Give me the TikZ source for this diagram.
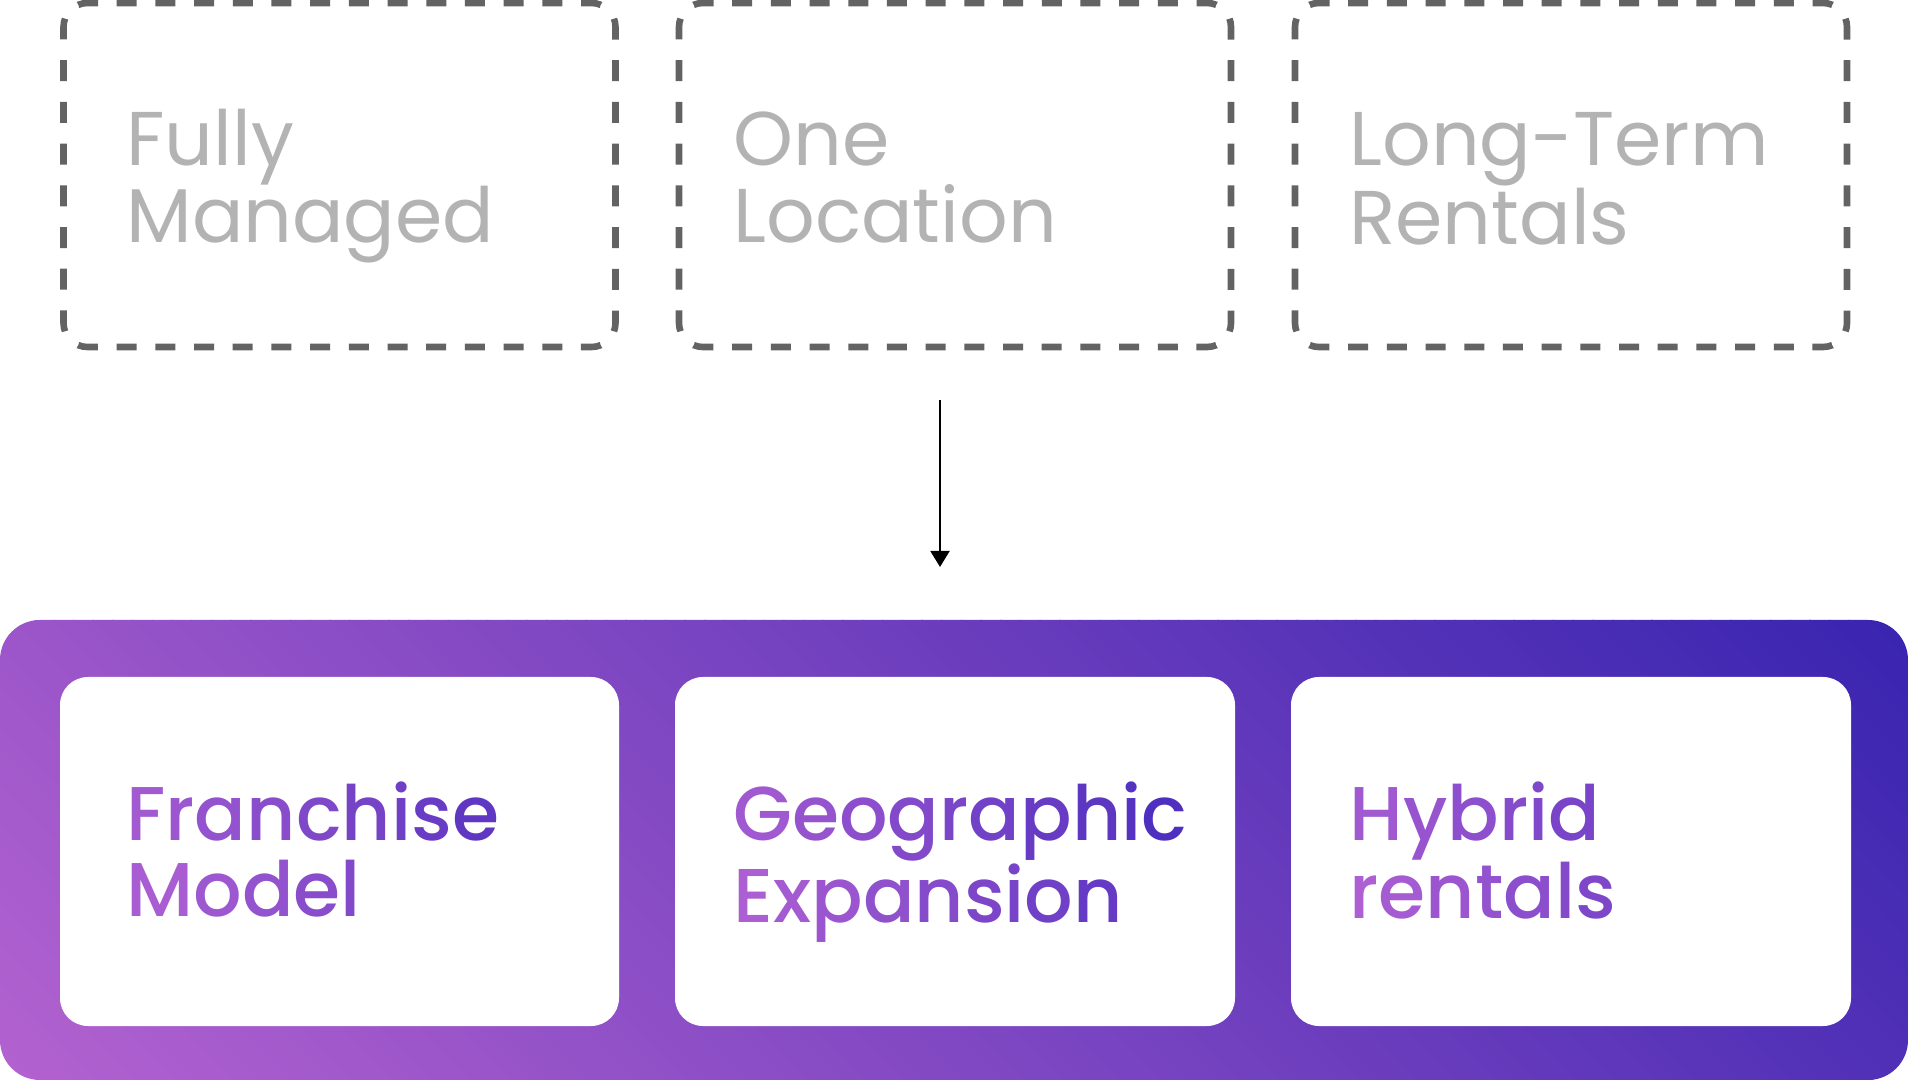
\documentclass[tikz,border=0pt]{standalone}
\usepackage{fontspec}
\setmainfont{Poppins}
\newfontfamily\popreg{Poppins}
\newfontfamily\popmed{Poppins Medium}
\usetikzlibrary{arrows.meta}
\definecolor{gL}{HTML}{B462D0}
\definecolor{gD}{HTML}{3824B0}
\definecolor{tL}{HTML}{B262D4}
\definecolor{tD}{HTML}{3E26BC}
\definecolor{dashgray}{HTML}{636363}
\definecolor{lblgray}{HTML}{B3B3B3}
\makeatletter
\newcommand\gradword[3]{%
  \def\gw@pre{}%
  \@tfor\gw@c:=#3\do{%
    \setbox0\hbox{\gw@pre\gw@c}%
    \setbox2\hbox{\gw@pre}%
    \dimen@=\wd0 \advance\dimen@\wd2 \divide\dimen@ 2
    \pgfmathsetmacro\gw@p{min(100,max(0,#1+#2*\the\dimen@))}%
    \textcolor{tD!\gw@p!tL}{\gw@c}%
    \edef\gw@pre{\gw@pre\gw@c}%
  }}
\makeatother
\tikzset{
  dashbox/.style={minimum width=276pt, minimum height=172pt, inner sep=0pt, outer sep=0pt},
  hdash/.style={draw=dashgray, line width=3.3pt, dash pattern=on 10pt off 9.346pt, dash phase=14.673pt},
  vdash/.style={draw=dashgray, line width=3.3pt, dash pattern=on 10.5pt off 10.356pt, dash phase=15.678pt},
  whitebox/.style={fill=white, rounded corners=14pt, minimum width=280pt,
    minimum height=174.5pt, inner sep=0pt},
  toplbl/.style={anchor=base west, inner sep=0pt, text=lblgray,
    font=\fontsize{38.1pt}{38.25pt}\selectfont\popreg},
  botlbl/.style={anchor=base west, inner sep=0pt,
    font=\fontsize{38.1pt}{38pt}\selectfont\popmed},
  arrowline/.style={line width=1pt, -{Triangle[width=9.5pt,length=8pt]}}
}
\newcommand\dashoutline[1]{%
  \draw[hdash] ([shift={(3.515pt,-3.515pt)}]#1.north west) arc[start angle=135,end angle=90,radius=12pt]
     -- ([xshift=-12pt]#1.north east) arc[start angle=90,end angle=45,radius=12pt];
  \draw[vdash] ([shift={(-3.515pt,-3.515pt)}]#1.north east) arc[start angle=45,end angle=0,radius=12pt]
     -- ([yshift=12pt]#1.south east) arc[start angle=0,end angle=-45,radius=12pt];
  \draw[hdash] ([shift={(-3.515pt,3.515pt)}]#1.south east) arc[start angle=-45,end angle=-90,radius=12pt]
     -- ([xshift=12pt]#1.south west) arc[start angle=-90,end angle=-135,radius=12pt];
  \draw[vdash] ([shift={(3.515pt,3.515pt)}]#1.south west) arc[start angle=-135,end angle=-180,radius=12pt]
     -- ([yshift=-12pt]#1.north west) arc[start angle=180,end angle=135,radius=12pt];
}
\begin{document}
\begin{tikzpicture}[x=0.5pt,y=-0.5pt]
\useasboundingbox (0,0) rectangle (1908,1080);
% top dashed boxes
\node[dashbox] (d1) at (339.5,175) {};
\node[dashbox] (d2) at (955,175) {};
\node[dashbox] (d3) at (1571,175) {};
\dashoutline{d1}
\dashoutline{d2}
\dashoutline{d3}
\node[toplbl] (t1) at (126,166) {\vtop{\hbox{Fully}\hbox{Managed}}};
\node[toplbl] (t2) at (733,166) {\vtop{\hbox{One}\hbox{Location}}};
\node[toplbl] (t3) at (1349,166) {\vtop{\hbox{Long-Term}\hbox{Rentals}}};
% arrow
\coordinate (a1) at (940,400);
\coordinate (a2) at (940,567);
\draw[arrowline] (a1) -- (a2);
% gradient band
\begin{scope}
\clip[rounded corners=20pt] (0,620) rectangle (1908,1080);
\foreach \i in {0,...,119}{
  \pgfmathsetmacro\xa{\i*19.7333}
  \pgfmathsetmacro\xb{(\i+1)*19.7333+1.5}
  \pgfmathsetmacro\pp{(\i+0.5)*0.83333}
  \fill[gD!\pp!gL] (\xa,1082) -- (\xb,1082) -- (\xb-462,618) -- (\xa-462,618) -- cycle;
}
\end{scope}
% white boxes
\node[whitebox, minimum width=279.5pt] (w1) at (339.5,851.5) {};
\node[whitebox] (w2) at (955,851.5) {};
\node[whitebox] (w3) at (1571,851.5) {};
\node[botlbl] (l1) at (126,840.7) {\vtop{\hbox{\gradword{10}{0.35}{Franchise}}\hbox{\gradword{2}{0.35}{Model}}}};
\node[botlbl] (l2) at (733,840.7) {\vtop{\hbox{\gradword{10}{0.35}{Geographic}}\hbox{\gradword{2}{0.35}{Expansion}}}};
\node[botlbl] (l3) at (1349,840.7) {\vtop{\hbox{\gradword{10}{0.35}{Hybrid}}\hbox{\gradword{2}{0.35}{rentals}}}};
\end{tikzpicture}
\end{document}
